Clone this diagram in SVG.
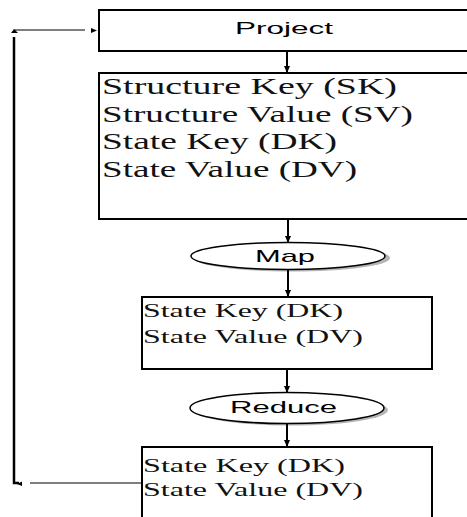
<svg xmlns="http://www.w3.org/2000/svg" width="467" height="517" viewBox="0 0 467 517">
<style>
.box{fill:#fff;stroke:#000;stroke-width:2}
.ell{fill:#fff;stroke:#000;stroke-width:1.5}
.shadow{fill:#b5b5b5}
.sans{font-family:"Liberation Sans",Arial,sans-serif;fill:#000}
.serif{font-family:"Liberation Serif","Times New Roman",serif;fill:#111}
.line{stroke:#000;stroke-width:2;fill:none}
.thin{stroke:#000;stroke-width:1.2;fill:none}
.thick{stroke:#000;stroke-width:2.5;fill:none}
.head{fill:#000}
</style>
<defs>
<marker id="ah" markerWidth="7" markerHeight="6" refX="6" refY="3" orient="auto" markerUnits="userSpaceOnUse">
<path d="M0,0 L7,3 L0,6 Z" fill="#000"/>
</marker>
</defs>
<rect width="467" height="517" fill="#fff"/>

<g id="project">
<rect class="box" x="99" y="10" width="380" height="41"/>
<text class="sans" x="235" y="34" font-size="16" textLength="98" lengthAdjust="spacingAndGlyphs">Project</text>
</g>

<g id="state-all">
<rect class="box" x="99" y="73" width="380" height="146"/>
<text class="serif" x="102" y="94" font-size="23" textLength="295" lengthAdjust="spacingAndGlyphs">Structure Key (SK)</text>
<text class="serif" x="102" y="122" font-size="23" textLength="311" lengthAdjust="spacingAndGlyphs">Structure Value (SV)</text>
<text class="serif" x="102" y="149" font-size="23" textLength="235" lengthAdjust="spacingAndGlyphs">State Key (DK)</text>
<text class="serif" x="102" y="177" font-size="23" textLength="255" lengthAdjust="spacingAndGlyphs">State Value (DV)</text>
</g>

<g id="map">
<ellipse class="shadow" cx="292" cy="258" rx="98" ry="13.5"/>
<ellipse class="ell" cx="288" cy="256" rx="97" ry="13.5"/>
<text class="sans" x="255" y="262" font-size="17" textLength="60" lengthAdjust="spacingAndGlyphs">Map</text>
</g>

<g id="state-mid">
<rect class="box" x="142" y="297" width="290" height="72"/>
<text class="serif" x="143" y="317" font-size="18" textLength="200" lengthAdjust="spacingAndGlyphs">State Key (DK)</text>
<text class="serif" x="143" y="343" font-size="18" textLength="220" lengthAdjust="spacingAndGlyphs">State Value (DV)</text>
</g>

<g id="reduce">
<ellipse class="shadow" cx="291" cy="410" rx="97" ry="15.5"/>
<ellipse class="ell" cx="287" cy="408" rx="97" ry="15.5"/>
<text class="sans" x="230" y="413" font-size="16" textLength="107" lengthAdjust="spacingAndGlyphs">Reduce</text>
</g>

<g id="state-out">
<rect class="box" x="142" y="447" width="290" height="80"/>
<text class="serif" x="143" y="472" font-size="18" textLength="202" lengthAdjust="spacingAndGlyphs">State Key (DK)</text>
<text class="serif" x="143" y="496" font-size="18" textLength="220" lengthAdjust="spacingAndGlyphs">State Value (DV)</text>
</g>

<g id="connectors">
<line class="line" x1="287" y1="51" x2="287" y2="72" marker-end="url(#ah)"/>
<line class="line" x1="288" y1="219" x2="288" y2="242" marker-end="url(#ah)"/>
<line class="line" x1="288" y1="270" x2="288" y2="296" marker-end="url(#ah)"/>
<line class="line" x1="287" y1="369" x2="287" y2="392" marker-end="url(#ah)"/>
<line class="line" x1="287" y1="424" x2="287" y2="446" marker-end="url(#ah)"/>
<line class="thin" x1="142" y1="483" x2="30" y2="483"/>
<path class="thick" d="M14,37 V483 H19"/>
<path class="head" d="M17,484 L22,481.5 L22,486 Z"/>
<line class="thin" x1="14" y1="30" x2="85" y2="30"/>
<path class="head" d="M11,33 L14,29 L18,33 Z"/>
<path class="head" d="M97,30.5 L91,28 L91,33 Z"/>
</g>
</svg>
